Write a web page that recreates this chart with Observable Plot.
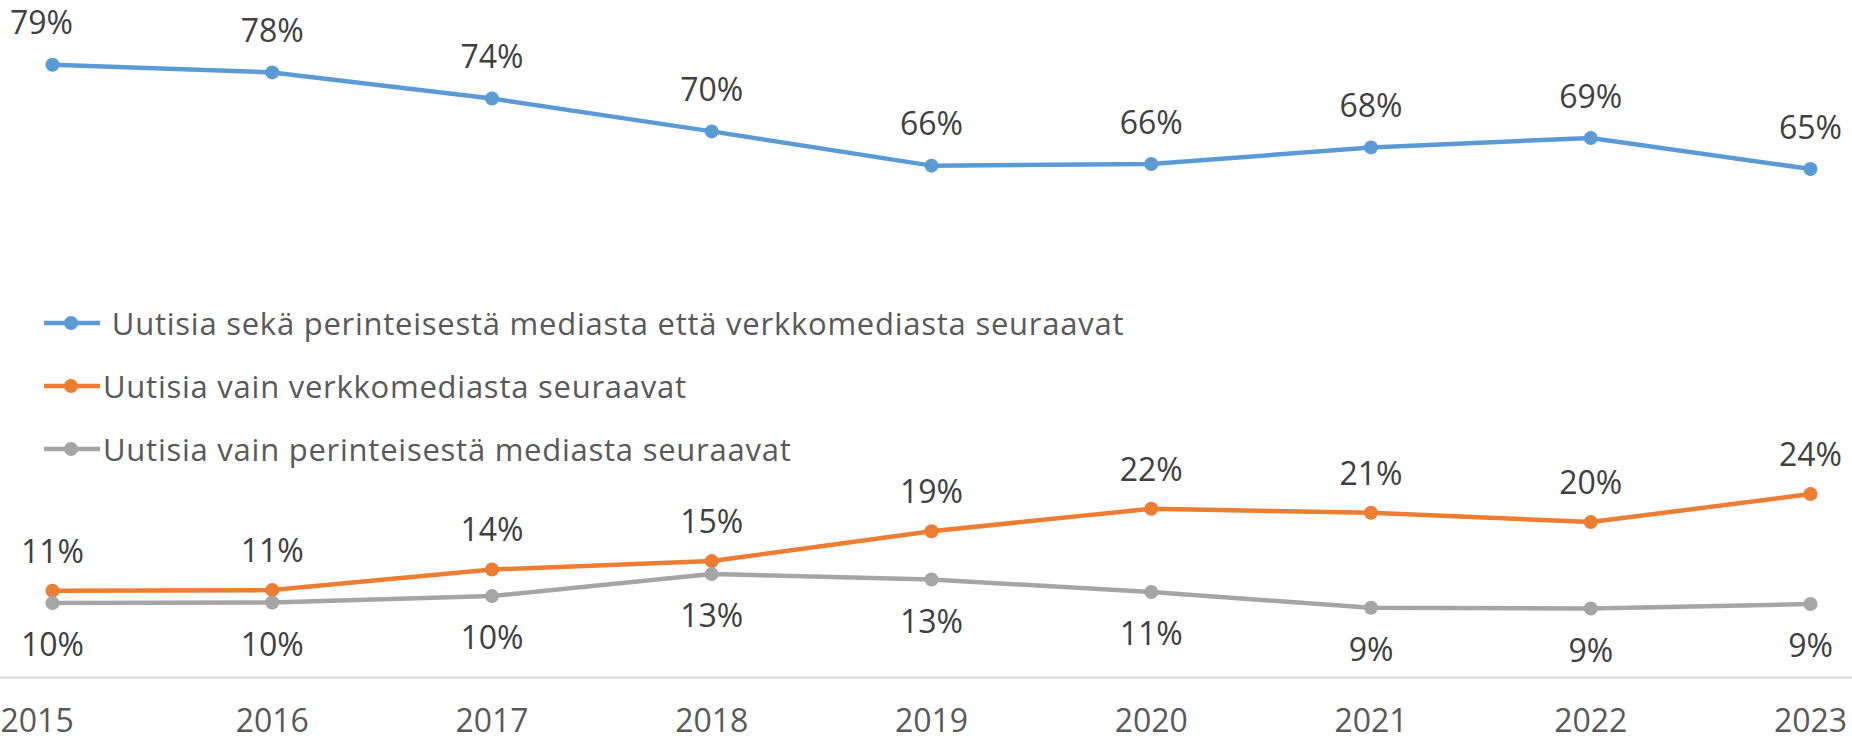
<!DOCTYPE html>
<html>
<head>
<meta charset="utf-8">
<script src="https://cdn.jsdelivr.net/npm/d3@7"></script>
<script src="https://cdn.jsdelivr.net/npm/@observablehq/plot@0.6"></script>
<style>
  html, body { margin: 0; padding: 0; background: #fff; }
  #wrap { position: relative; width: 1852px; height: 741px; overflow: hidden; }
  #legend { position: absolute; left: 0; top: 0; font-family: "Open Sans", sans-serif; font-size: 31px; letter-spacing: 0.75px; color: #595959; }
  .row { position: absolute; left: 44px; height: 44px; display: flex; align-items: center; white-space: pre; }
  .row span { line-height: 44px; }
</style>
</head>
<body>
<div id="wrap"><div id="legend"></div></div>
<script>
// ---- data ----
const years = [2015, 2016, 2017, 2018, 2019, 2020, 2021, 2022, 2023];
const seriesNames = [
  "Uutisia sekä perinteisestä mediasta että verkkomediasta seuraavat",
  "Uutisia vain verkkomediasta seuraavat",
  "Uutisia vain perinteisestä mediasta seuraavat"
];
const bothValues        = [78.75, 77.76, 74.4, 70.18, 65.78, 65.99, 68.12, 69.33, 65.35];
const onlineOnlyValues  = [11.14, 11.23, 13.88, 14.96, 18.8, 21.68, 21.17, 19.97, 23.57];
const tradOnlyValues    = [9.56, 9.64, 10.46, 13.29, 12.6, 10.98, 8.96, 8.87, 9.43];
const colors = ["#5B9BD5", "#ED7D31", "#A5A5A5"];

const valueSets = [bothValues, onlineOnlyValues, tradOnlyValues];
const rows = [];
valueSets.forEach((vals, si) => {
  vals.forEach((v, i) => rows.push({ year: years[i], value: v, series: seriesNames[si] }));
});
const bySeries = s => rows.filter(d => d.series === s);
const pct = d => Math.round(d.value) + "%";

// x domain padded so the frame spans the full width
const step = 219.75;
const xDomain = [years[0] - 52 / step, years[years.length - 1] + 42 / step];

const chart = Plot.plot({
  width: 1852,
  height: 741,
  marginTop: 0,
  marginRight: 0,
  marginBottom: 64,
  marginLeft: 0,
  style: { fontFamily: "Open Sans", fontSize: "32px", background: "transparent" },
  x: { type: "linear", domain: xDomain, axis: null, label: null },
  y: { domain: [0, 87], axis: null, label: null },
  color: { domain: seriesNames, range: colors },
  marks: [
    Plot.ruleY([0], { stroke: "#D9D9D9", strokeWidth: 2 }),
    Plot.line(rows, { x: "year", y: "value", z: "series", stroke: "series", strokeWidth: 4.5 }),
    Plot.dot(rows, { x: "year", y: "value", fill: "series", r: 7 }),
    Plot.text(bySeries(seriesNames[0]).slice(1), { x: "year", y: "value", text: pct, dy: -40.5, fill: "#404040", fontSize: 32 }),
    Plot.text(bySeries(seriesNames[0]).slice(0, 1), { x: "year", y: "value", text: pct, dy: -40.5, dx: -11, fill: "#404040", fontSize: 32 }),
    Plot.text(bySeries(seriesNames[1]), { x: "year", y: "value", text: pct, dy: -38.5, fill: "#404040", fontSize: 32 }),
    Plot.text(bySeries(seriesNames[2]), { x: "year", y: "value", text: pct, dy: 43, fill: "#404040", fontSize: 32 }),
    Plot.axisX(years.slice(1), { tickSize: 0, tickPadding: 32, tickFormat: d => String(d), fontSize: 32, color: "#595959", label: null }),
    Plot.axisX(years.slice(0, 1), { tickSize: 0, tickPadding: 32, tickFormat: d => String(d), fontSize: 32, color: "#595959", textAnchor: "start", dx: -52, label: null })
  ]
});
document.getElementById("wrap").prepend(chart);

// ---- legend overlay (inside plot area as in the original) ----
const legendCenters = [322.7, 386, 448.7];
const legendText = [" " + seriesNames[0], seriesNames[1], seriesNames[2]];
const legend = document.getElementById("legend");
seriesNames.forEach((name, i) => {
  const row = document.createElement("div");
  row.className = "row";
  row.style.top = (legendCenters[i] - 22) + "px";
  row.innerHTML =
    `<svg width="56" height="20" style="flex:none"><line x1="0" y1="10" x2="56" y2="10" stroke="${colors[i]}" stroke-width="4.5"/><circle cx="27" cy="10" r="7" fill="${colors[i]}"/></svg>` +
    `<span style="margin-left:3px">${legendText[i]}</span>`;
  legend.appendChild(row);
});
</script>
</body>
</html>
